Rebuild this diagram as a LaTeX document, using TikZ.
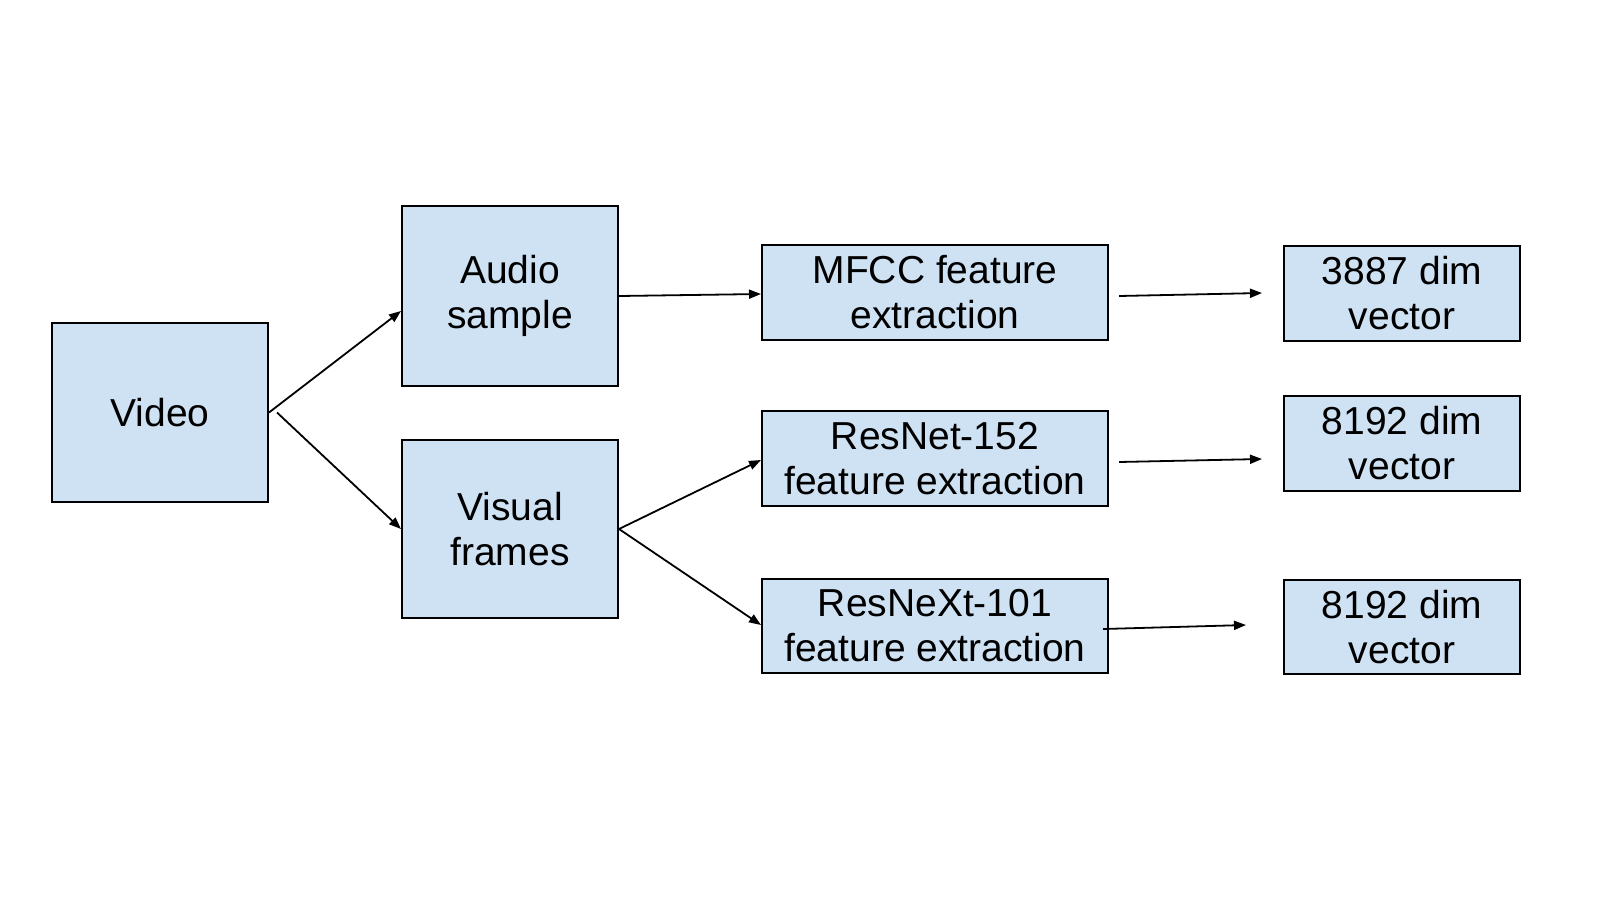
\documentclass[tikz,border=0pt]{standalone}
\usepackage{fontspec}
\setmainfont{Liberation Sans}
\usetikzlibrary{arrows.meta}
\definecolor{boxblue}{HTML}{CFE2F3}
\begin{document}
\begin{tikzpicture}[x=1pt,y=-1pt,
  box/.style={draw=black,line width=2pt,fill=boxblue,inner sep=0pt,align=center,
    font=\fontsize{39}{45}\selectfont},
  conn/.style={line width=1.8pt,-{Triangle[length=12pt,width=9pt]}}]
\useasboundingbox (0,0) rectangle (1600,900);
\node[box,minimum width=216pt,minimum height=179pt] (video) at (160,412.5) {Video};
\node[box,minimum width=216pt,minimum height=180pt] (audio) at (510,296) {Audio\\sample};
\node[box,minimum width=216pt,minimum height=178pt] (visual) at (510,529) {Visual\\frames};
\node[box,minimum width=346pt,minimum height=95pt] (mfcc) at (935,292.5) {MFCC feature\\extraction};
\node[box,minimum width=346pt,minimum height=95pt] (resnet) at (935,458.5) {ResNet-152\\feature extraction};
\node[box,minimum width=346pt,minimum height=94pt] (resnext) at (935,626) {ResNeXt-101\\feature extraction};
\node[box,minimum width=236pt,minimum height=95pt] (v1) at (1402,293.5) {3887 dim\\vector};
\node[box,minimum width=236pt,minimum height=95pt] (v2) at (1402,443.5) {8192 dim\\vector};
\node[box,minimum width=236pt,minimum height=94pt] (v3) at (1402,627) {8192 dim\\vector};
\coordinate (a1s) at (1119,296);
\coordinate (a1e) at (1262,293);
\coordinate (a2s) at (1119,462);
\coordinate (a2e) at (1262,459);
\coordinate (a3s) at (1103,629);
\coordinate (a3e) at (1246,625);
\draw[conn] (video.east) -- (audio.west |- 0,311);
\draw[conn] ([xshift=8pt]video.east) -- (visual.west);
\draw[conn] (audio.east) -- (mfcc.west |- 0,294);
\draw[conn] (visual.east) -- (resnet.west |- 0,460);
\draw[conn] (visual.east) -- (resnext.west |- 0,625);
\draw[conn] (a1s) -- (a1e);
\draw[conn] (a2s) -- (a2e);
\draw[conn] (a3s) -- (a3e);
\end{tikzpicture}
\end{document}
